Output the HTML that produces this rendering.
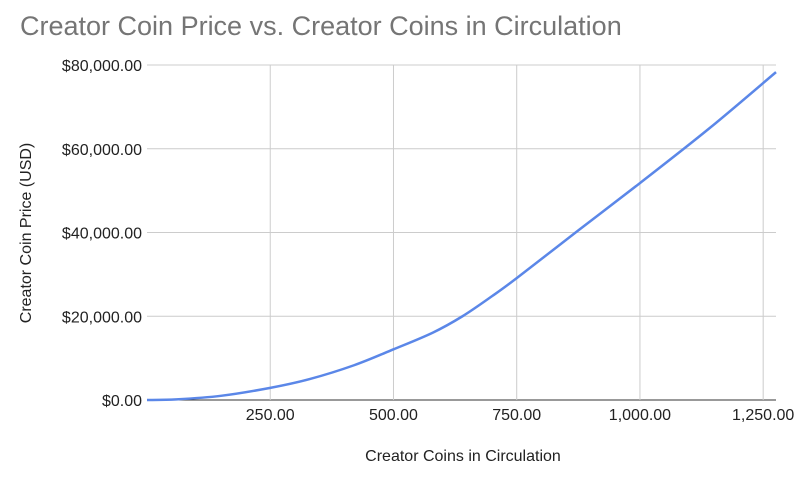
<!DOCTYPE html>
<html><head><meta charset="utf-8"><style>
body{margin:0;background:#fff;}
svg{display:block;font-family:"Liberation Sans",Arial,sans-serif;}
</style></head><body>
<svg id="chart" width="800" height="478">
<rect width="800" height="478" fill="#fff"/>
<text x="20" y="35" font-size="27" fill="#757575">Creator Coin Price vs. Creator Coins in Circulation</text>
<g id="grid"></g>
<g id="axes"></g>
<path id="line" fill="none" stroke="#5b87e8" stroke-width="2.5"/>
<text x="463" y="461" font-size="16" text-anchor="middle" fill="#222">Creator Coins in Circulation</text>
<text transform="translate(31,233) rotate(-90)" font-size="16" text-anchor="middle" fill="#222">Creator Coin Price (USD)</text>
</svg>
<script>
const coins = [0, 60, 150, 250, 330, 420, 500, 580, 640, 700, 750, 875, 1000, 1140, 1276];
const prices = [0, 150, 1000, 2900, 5000, 8300, 12100, 16100, 20000, 24800, 29100, 40500, 51800, 64800, 78300];
const xTicks = [250, 500, 750, 1000, 1250];
const xTickLabels = ["250.00", "500.00", "750.00", "1,000.00", "1,250.00"];
const yTicks = [0, 20000, 40000, 60000, 80000];
const yTickLabels = ["$0.00", "$20,000.00", "$40,000.00", "$60,000.00", "$80,000.00"];
const X0=147, X1=776, XMAX=1276, Y0=400, Y1=65, YMAX=80000;
const sx = v => X0 + v/XMAX*(X1-X0);
const sy = v => Y0 - v/YMAX*(Y0-Y1);
const NS="http://www.w3.org/2000/svg";
const grid=document.getElementById('grid'), axes=document.getElementById('axes');
function mk(tag, attrs, parent){const e=document.createElementNS(NS,tag);for(const k in attrs)e.setAttribute(k,attrs[k]);parent.appendChild(e);return e;}
yTicks.forEach((t,i)=>{
  const y=sy(t);
  const l=mk('line',{x1:X0,x2:X1,y1:y,y2:y,stroke:i===0?'#333':'#ccc','stroke-width':1},grid);
  
  
  const tx=mk('text',{x:142,y:y+6,'font-size':16,'text-anchor':'end',fill:'#222'},axes);
  tx.textContent=yTickLabels[i];
  
  
});
xTicks.forEach((t,i)=>{
  const x=sx(t);
  const l=mk('line',{x1:x,x2:x,y1:Y1,y2:Y0,stroke:'#ccc','stroke-width':1},grid);
  
  
  const tx=mk('text',{x:x,y:420,'font-size':16,'text-anchor':'middle',fill:'#222'},axes);
  tx.textContent=xTickLabels[i];
  
  
});
const pts=coins.map((c,i)=>[sx(c),sy(prices[i])]);
let d='M'+pts[0][0]+','+pts[0][1];
for(let i=1;i<pts.length;i++){
  const p0=pts[i-2]||pts[i-1],p1=pts[i-1],p2=pts[i],p3=pts[i+1]||p2;
  const c1=[p1[0]+(p2[0]-p0[0])/6,p1[1]+(p2[1]-p0[1])/6];
  const c2=[p2[0]-(p3[0]-p1[0])/6,p2[1]-(p3[1]-p1[1])/6];
  d+=' C'+c1+' '+c2+' '+p2;
}
document.getElementById('line').setAttribute('d',d);
</script>
</body></html>
